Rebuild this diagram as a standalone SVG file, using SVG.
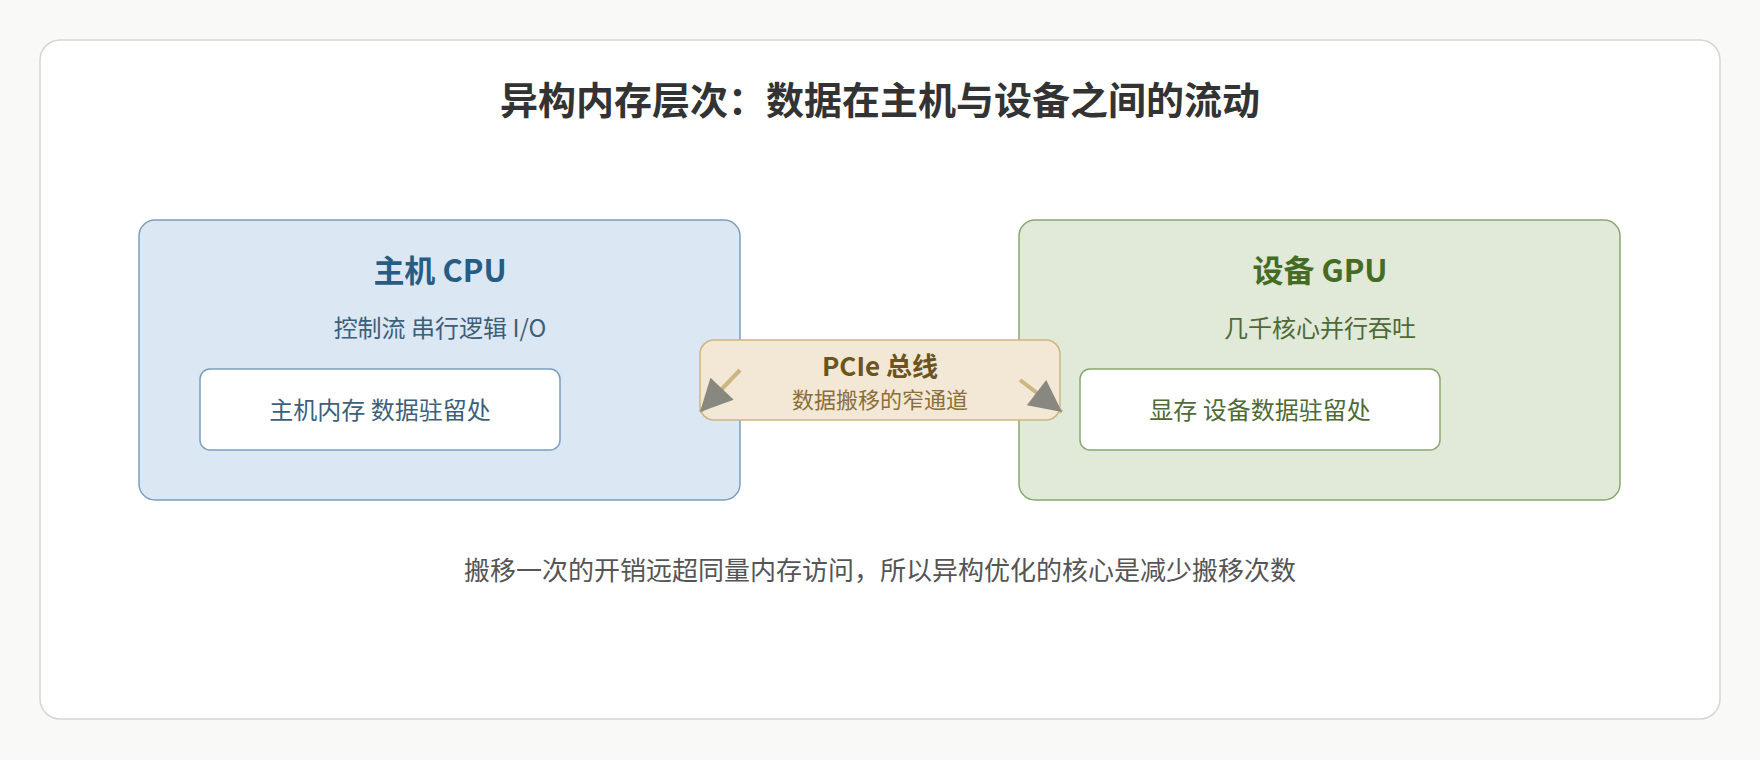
<svg xmlns="http://www.w3.org/2000/svg" width="1760" height="760" viewBox="0 0 1760 760">
<style>
text{font-family:"Noto Sans CJK SC","Noto Sans",sans-serif;text-anchor:middle}
.t{font-size:38px;font-weight:bold;fill:#333}
.h{font-size:31px;font-weight:bold}
.s{font-size:24px}
.in{fill:#fff;stroke-width:1.5}
</style>
<defs><marker id="ah" viewBox="0 0 10 10" refX="10" refY="5" markerWidth="36" markerHeight="32" orient="auto" markerUnits="userSpaceOnUse"><path d="M0,0L10,5L0,10z" fill="#888880"/></marker></defs>
<rect width="1760" height="760" fill="#f9f9f7"/>
<rect x="40" y="40" width="1680" height="679" rx="20" fill="#fff" stroke="#d6d6d0" stroke-width="1.5"/>
<text class="t" x="880" y="114">异构内存层次：数据在主机与设备之间的流动</text>
<g id="cpu">
<rect x="139" y="220" width="601" height="280" rx="16" fill="#dbe7f2" stroke="#7b9fc0" stroke-width="1.5"/>
<text class="h" x="440" y="282" fill="#275d82">主机 CPU</text>
<text class="s" x="440" y="337" fill="#3d5f7a">控制流 串行逻辑 I/O</text>
</g>
<g id="hostmem">
<rect class="in" x="200" y="369" width="360" height="81" rx="10" stroke="#7b9fc0"/>
<text class="s" x="380" y="419" fill="#3d5f7a">主机内存 数据驻留处</text>
</g>
<g id="gpu">
<rect x="1019" y="220" width="601" height="280" rx="16" fill="#e1e9d9" stroke="#88a870" stroke-width="1.5"/>
<text class="h" x="1320" y="282" fill="#456c25">设备 GPU</text>
<text class="s" x="1320" y="337" fill="#4e6a36">几千核心并行吞吐</text>
</g>
<g id="gpumem">
<rect class="in" x="1080" y="369" width="360" height="81" rx="10" stroke="#88a870"/>
<text class="s" x="1260" y="419" fill="#4e6a36">显存 设备数据驻留处</text>
</g>
<g id="pcie">
<rect x="700" y="340" width="360" height="80" rx="14" fill="#f3e7d6" stroke="#cdb682" stroke-width="1.5"/>
<text x="880" y="376" font-size="26" font-weight="bold" fill="#6b5420">PCIe 总线</text>
<text x="880" y="408" font-size="22" fill="#8a6f3a">数据搬移的窄通道</text>
</g>
<g id="connectors" stroke="#cdb682" stroke-width="4" fill="none">
<path d="M740,370L700,412" marker-end="url(#ah)"/>
<path d="M1020,380L1062,412" marker-end="url(#ah)"/>
</g>
<text x="880" y="580" font-size="26" fill="#555">搬移一次的开销远超同量内存访问，所以异构优化的核心是减少搬移次数</text>
</svg>
